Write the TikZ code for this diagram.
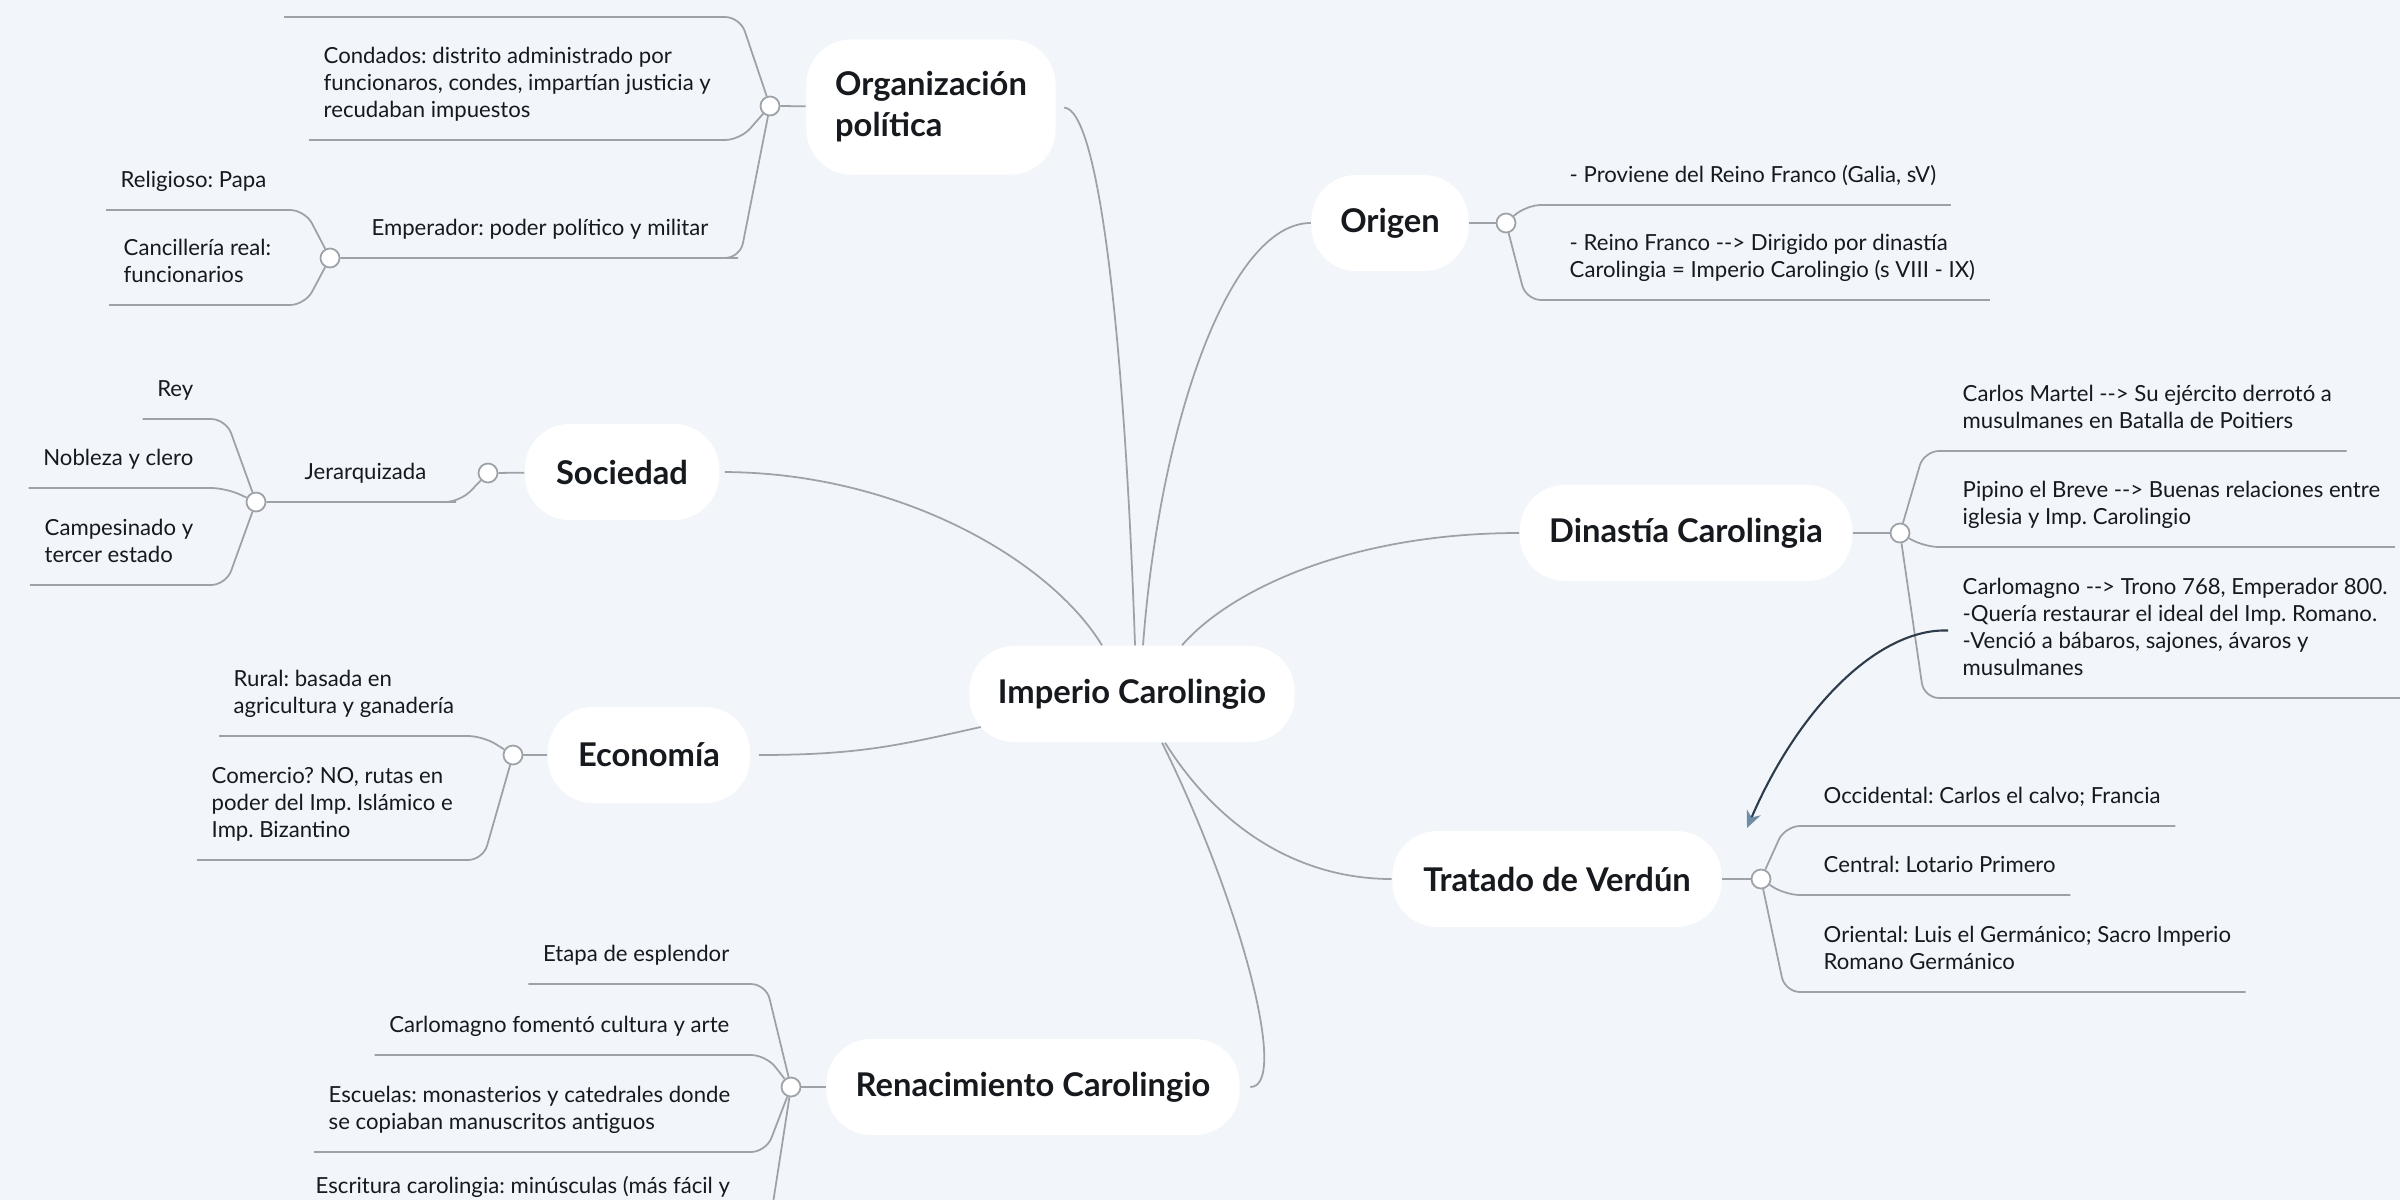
\documentclass[tikz,border=0pt]{standalone}
\usepackage{fontspec}
\setmainfont{Lato}
\usetikzlibrary{arrows.meta,calc}
\definecolor{mapback}{HTML}{F2F6FA}
\definecolor{mapink}{HTML}{16191D}
\definecolor{leafink}{HTML}{2A2E33}
\definecolor{mapline}{HTML}{9CA2A8}
\definecolor{maparrow}{HTML}{2E3B4A}
\definecolor{maptip}{HTML}{6F8EA6}

\newcommand{\leaffont}{\fontsize{6.3}{7.7}\selectfont\frenchspacing\color{leafink}}
\newcommand{\topicfont}{\fontsize{9.3}{11.6}\selectfont\bfseries}
\newcommand{\flecha}{-\kern0pt-\kern0pt>}

\begin{document}
\begin{tikzpicture}[x=0.01cm, y=-0.01cm, >=stealth,
                    every node/.style={mapink},
                    topic/.style={fill=white, rounded corners=0.45cm, font=\topicfont,
                                  inner xsep=0.2cm, minimum height=0.96cm, align=left},
                    leaf/.style={font=\leaffont, inner xsep=0.14cm, inner ysep=0.14cm,
                                 text depth=0.08cm, align=left},
                    knot/.style={circle, draw=mapline, fill=white, line width=0.5pt,
                                 minimum size=0.19cm, inner sep=0pt},
                    branch/.style={draw=mapline, line width=0.5pt, rounded corners=0.15cm}]

%% ==== 底色與圖框 ============================================================
\fill[mapback] (0,0) rectangle (2400,1200);
\useasboundingbox (0,0) rectangle (2400,1200);

%% ==== 中心主題與八個分支主題 ================================================
\node[topic, minimum width=3.25cm] (central) at (1132,694) {Imperio Carolingio};
\node[topic, minimum width=2.49cm, minimum height=1.35cm] (org) at (931,107) {Organización\\política};
\node[topic, minimum width=1.57cm] (origen) at (1390,223) {Origen};
\node[topic, minimum width=1.94cm] (soc) at (622,472) {Sociedad};
\node[topic, minimum width=3.32cm] (din) at (1686,533) {Dinastía Carolingia};
\node[topic, minimum width=2.02cm] (eco) at (649,755) {Economía};
\node[topic, minimum width=3.29cm] (trat) at (1557,879) {Tratado de Verdún};
\node[topic, minimum width=4.13cm] (rena) at (1033,1087) {Renacimiento Carolingio};

%% 中心到各主題的曲線
\draw[branch, shorten <=0.08cm] (org.east) .. controls (1100,110) and (1125,350) .. ([xshift=0.03cm]central.north);
\draw[branch] (origen.west) .. controls (1230,223) and (1160,420) .. ([xshift=0.11cm]central.north);
\draw[branch, shorten <=0.05cm] (soc.east) .. controls (900,473) and (1050,560) .. ([xshift=-0.3cm]central.north);
\draw[branch] (din.west) .. controls (1350,533) and (1230,590) .. ([xshift=0.5cm]central.north);
\draw[branch, shorten <=0.08cm] (eco.east) .. controls (860,755) and (900,745) .. ([xshift=0.12cm,yshift=-0.33cm]central.west);
\draw[branch] ([xshift=0.33cm]central.south) .. controls (1220,830) and (1300,879) .. (trat.west);
\draw[branch, shorten >=0.1cm] ([xshift=0.3cm]central.south) .. controls (1240,900) and (1290,1087) .. (rena.east);

%% ==== Organización política ================================================
\node[knot] (orgdot) at (770,106) {};
\node[knot] (empdot) at (330,258) {};
\coordinate (orgtop) at (284,17);
\node[leaf, anchor=south west] (cond) at (309,140)
  {Condados: distrito administrado por\\funcionaros, condes, impartían justicia y\\recudaban impuestos};
\node[leaf, anchor=south east] (emp) at (723,258) {Emperador: poder político y militar};
\node[leaf, anchor=south east] (rel) at (281,210) {Religioso: Papa};
\node[leaf, anchor=south west] (canc) at (109,305) {Cancillería real:\\funcionarios};

\draw[branch] (orgdot) -- (org);
\draw[branch] (orgdot) -- ($(orgdot.center |- orgtop)+(-30,0)$) -- (orgtop);
\draw[branch] (orgdot) -- ($(orgdot.center |- cond.south)+(-30,0)$) -- (cond.south west);
\draw[branch] (orgdot) -- ($(orgdot.center |- emp.south)+(-30,0)$) -- (emp.south east) -- (empdot);
\draw[branch] (empdot) -- ($(empdot.center |- rel.south)+(-25,0)$) -- (rel.south west);
\draw[branch] (empdot) -- ($(empdot.center |- canc.south)+(-25,0)$) -- (canc.south west);

%% ==== Sociedad ============================================================
\node[knot] (socdot) at (488,473) {};
\node[knot] (jerdot) at (256,502) {};
\node[leaf, anchor=south east] (jer) at (441,502) {Jerarquizada};
\node[leaf, anchor=south east] (rey) at (208,419) {Rey};
\node[leaf, anchor=south east] (nob) at (208,488) {Nobleza y clero};
\node[leaf, anchor=south west] (camp) at (30,585) {Campesinado y\\tercer estado};

\draw[branch] (socdot) -- (soc);
\draw[branch] (socdot) -- ($(socdot.center |- jer.south)+(-28,0)$) -- (jer.south east) -- (jerdot);
\draw[branch] (jerdot) -- ($(jerdot.center |- rey.south)+(-30,0)$) -- (rey.south west);
\draw[branch] (jerdot) -- ($(jerdot.center |- nob.south)+(-30,0)$) -- (nob.south west);
\draw[branch] (jerdot) -- ($(jerdot.center |- camp.south)+(-30,0)$) -- (camp.south west);

%% ==== Economía ============================================================
\node[knot] (ecodot) at (513,755) {};
\node[leaf, anchor=south west] (rural) at (219,736) {Rural: basada en\\agricultura y ganadería};
\node[leaf, anchor=south west] (com) at (197,860)
  {Comercio? NO, rutas en\\poder del Imp. Islámico e\\Imp. Bizantino};

\draw[branch] (ecodot) -- (eco);
\draw[branch] (ecodot) -- ($(ecodot.center |- rural.south)+(-30,0)$) -- (rural.south west);
\draw[branch] (ecodot) -- ($(ecodot.center |- com.south)+(-30,0)$) -- (com.south west);

%% ==== Renacimiento Carolingio (最後一項在圖框下緣被切掉) ====================
\node[knot] (renadot) at (791,1087) {};
\node[leaf, anchor=south east] (etapa) at (744,984) {Etapa de esplendor};
\node[leaf, anchor=south east] (carlo) at (744,1055) {Carlomagno fomentó cultura y arte};
\node[leaf, anchor=south west] (esc) at (314,1152)
  {Escuelas: monasterios y catedrales donde\\se copiaban manuscritos antiguos};
\node[leaf, anchor=south west] (escr) at (301,1216) {Escritura carolingia: minúsculas (más fácil y};

\draw[branch] (renadot) -- (rena);
\draw[branch] (renadot) -- ($(renadot.center |- etapa.south)+(-25,0)$) -- (etapa.south west);
\draw[branch] (renadot) -- ($(renadot.center |- carlo.south)+(-25,0)$) -- (carlo.south west);
\draw[branch] (renadot) -- ($(renadot.center |- esc.south)+(-25,0)$) -- (esc.south west);
\draw[branch] (renadot) -- ($(renadot.center |- escr.south)+(-20,0)$) -- (escr.south west);

%% ==== Origen ==============================================================
\node[knot] (origdot) at (1506,223) {};
\node[leaf, anchor=south west] (prov) at (1555,205) {- Proviene del Reino Franco (Galia, sV)};
\node[leaf, anchor=south west] (reino) at (1555,300)
  {- Reino Franco \flecha{} Dirigido por dinastía\\Carolingia = Imperio Carolingio (s VIII - IX)};

\draw[branch] (origdot) -- (origen);
\draw[branch] (origdot) -- ($(origdot.center |- prov.south)+(20,0)$) -- (prov.south east);
\draw[branch] (origdot) -- ($(origdot.center |- reino.south)+(20,0)$) -- (reino.south east);

%% ==== Dinastía Carolingia ==================================================
\node[knot] (dindot) at (1900,533) {};
\node[leaf, anchor=south west] (martel) at (1948,451)
  {Carlos Martel \flecha{} Su ejército derrotó a\\musulmanes en Batalla de Poitiers};
\node[leaf, anchor=south west] (pipino) at (1948,547)
  {Pipino el Breve \flecha{} Buenas relaciones entre\\iglesia y Imp. Carolingio};
\node[leaf, anchor=south west] (carlm) at (1948,698)
  {Carlomagno \flecha{} Trono 768, Emperador 800.\\-Quería restaurar el ideal del Imp. Romano.\\-Venció a bábaros, sajones, ávaros y\\musulmanes};

\draw[branch] (dindot) -- (din);
\draw[branch] (dindot) -- ($(dindot.center |- martel.south)+(24,0)$) -- (martel.south east);
\draw[branch] (dindot) -- ($(dindot.center |- pipino.south)+(24,0)$) -- (pipino.south east);
\draw[branch] (dindot) -- ($(dindot.center |- carlm.south)+(24,0)$) -- (carlm.south east);

%% ==== Tratado de Verdún ===================================================
\node[knot] (tratdot) at (1761,879) {};
\node[leaf, anchor=south west] (occ) at (1809,826) {Occidental: Carlos el calvo; Francia};
\node[leaf, anchor=south west] (cent) at (1809,895) {Central: Lotario Primero};
\node[leaf, anchor=south west] (orie) at (1809,992)
  {Oriental: Luis el Germánico; Sacro Imperio\\Romano Germánico};

\draw[branch] (tratdot) -- (trat);
\draw[branch] (tratdot) -- ($(tratdot.center |- occ.south)+(24,0)$) -- (occ.south east);
\draw[branch] (tratdot) -- ($(tratdot.center |- cent.south)+(24,0)$) -- (cent.south east);
\draw[branch] (tratdot) -- ($(tratdot.center |- orie.south)+(24,0)$) -- (orie.south east);

%% 關係箭頭: Carlomagno 指向 Tratado de Verdún
\coordinate (verdtip) at (1747,828);
\draw[maparrow, line width=0.6pt, -{Stealth[length=0.17cm, width=0.15cm, color=maptip]}]
  (carlm.west) .. controls (1880,628) and (1800,705) .. (verdtip);

\end{tikzpicture}
\end{document}
